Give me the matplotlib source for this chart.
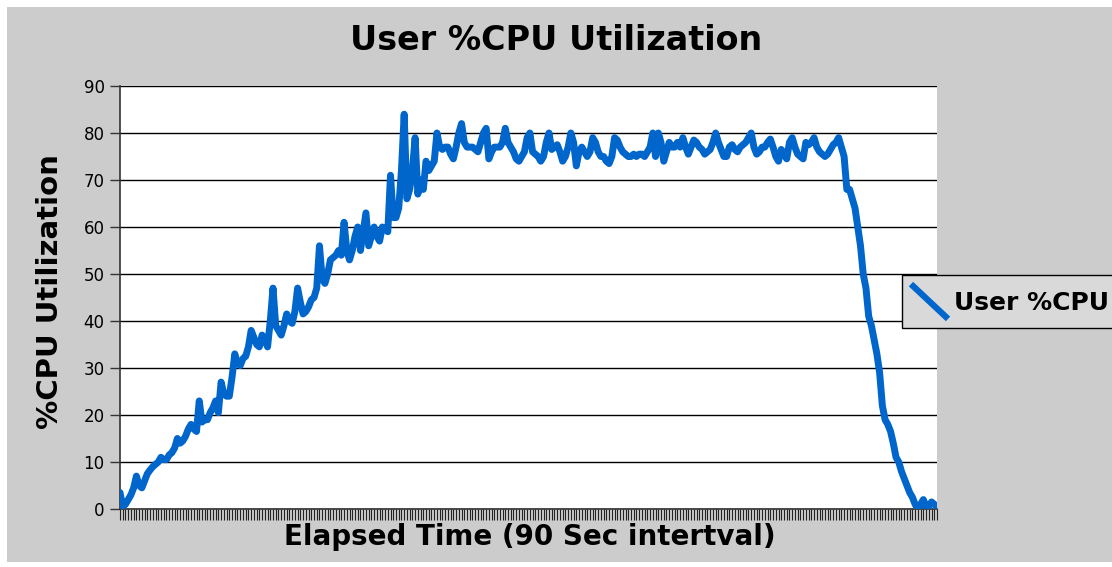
import matplotlib.pyplot as plt
from matplotlib.lines import Line2D
from matplotlib.patches import Rectangle
from matplotlib.legend_handler import HandlerBase

# User %CPU samples, one per 90 second interval
user_cpu = [
    3.5, 0.5, 1, 2, 3, 4.5, 7, 5, 4.5, 6,
    7.5, 8.3, 9, 9.5, 10, 11, 10.5, 10.5, 11.5, 12,
    13, 15, 14, 14.5, 15.5, 17, 18, 17, 16.5, 23,
    18.5, 19, 19, 20.5, 21.5, 23, 20.5, 27, 24.5, 24,
    24, 28, 33, 31, 30.5, 32, 32.5, 34.5, 38, 36.5,
    35, 34.5, 37, 36, 34.5, 40, 47, 39, 38, 37,
    39, 41.5, 40, 39.5, 42, 47, 44, 41.5, 42, 43,
    44.5, 45, 47, 56, 49, 48, 50, 53, 53.5, 54,
    55, 54, 61, 55, 53, 55, 58, 60, 55, 59,
    63, 56, 58, 60, 58, 57, 60, 59.5, 59, 71,
    62, 62, 64, 72, 84, 66, 68, 72, 79, 67,
    70, 68, 74, 72, 73, 74, 80, 77, 76.5, 77,
    77, 75.5, 74.5, 77, 80, 82, 78, 77, 77, 77,
    76.5, 76, 78, 80, 81, 74.5, 76, 77, 77, 77,
    78, 81, 78, 77, 76, 74.5, 74, 75, 76, 79,
    80, 76, 75.5, 75, 74, 75, 78, 80, 76.5, 77,
    77.5, 76, 74, 75, 77, 80, 78, 73, 76, 77,
    76, 75, 76, 79, 78, 76, 75, 75, 74, 73.5,
    75, 79, 78.5, 77, 76, 75.5, 75, 75, 75.5, 75,
    75.5, 75.5, 75, 76, 77, 80, 75, 80, 78, 74,
    76, 78, 77, 77, 78, 77, 79, 77, 75.5, 77,
    78.5, 78, 77, 76.5, 75.5, 76, 76.5, 78, 80, 78,
    76.5, 75, 75, 77, 77.5, 76.5, 76, 77, 77.5, 78,
    79, 80, 77, 75.5, 76, 77, 77, 78, 78.7, 77,
    75, 74, 76.5, 75.5, 74.5, 78, 79, 77, 75.5, 75,
    74.5, 78, 77.5, 78, 79, 77, 76, 75.5, 75, 75.5,
    76.5, 77.5, 78, 79, 77, 75, 68, 68, 66, 64,
    60, 56, 50, 47, 41, 39, 36, 33, 29, 22,
    19, 18, 16.5, 14, 11, 10, 8, 6.5, 5, 3.5,
    2.5, 1, 0, 1, 2, 0.5, 0.5, 1.5, 1, 0.5,
]
y_ticks = list(range(0, 100, 10))

line_color = '#0066cc'


class DiagonalHandler(HandlerBase):
    # legend key drawn as a short diagonal stroke
    def create_artists(self, legend, orig_handle, xdescent, ydescent,
                       width, height, fontsize, trans):
        x0, y0 = -xdescent, -ydescent
        ln = Line2D([x0, x0 + width], [y0 + height, y0],
                    color=line_color, lw=4.5, transform=trans)
        return [ln]


fig = plt.figure(figsize=(11.12, 5.67), dpi=100)
W, H = 1112, 567

# gray chart area, behind everything
fig.patches.append(Rectangle((7 / W, 5 / H), 1 - 7 / W, 555 / H,
                             transform=fig.transFigure, facecolor='#cccccc',
                             edgecolor='none', zorder=-10))

ax = fig.add_axes([120 / W, (H - 509) / H, 817 / W, 423 / H])
ax.set_facecolor('white')

x = list(range(len(user_cpu)))
line, = ax.plot(x, user_cpu, color=line_color, lw=5,
                solid_joinstyle='round', solid_capstyle='round', zorder=3)

ax.set_xlim(0, len(user_cpu) - 1)
ax.set_ylim(0, 90)
ax.set_yticks(y_ticks)
ax.set_xticks(x)
ax.set_xticklabels([])
ax.tick_params(axis='x', length=8, width=0.8, color='#222222')
ax.tick_params(axis='y', length=7, width=1, color='#333333',
               labelsize=12, pad=4)
ax.grid(axis='y', color='black', lw=1)
ax.set_axisbelow(True)
for s in ['top', 'right']:
    ax.spines[s].set_visible(False)
ax.spines['left'].set_color('#333333')
ax.spines['bottom'].set_color('#333333')
ax.spines['left'].set_linewidth(1.2)
ax.spines['bottom'].set_linewidth(1.2)

fig.text(556 / W, 1 - 40 / H, 'User %CPU Utilization', ha='center',
         va='center', fontsize=24, fontweight='bold')
fig.text(530 / W, 1 - 537 / H, 'Elapsed Time (90 Sec intertval)',
         ha='center', va='center', fontsize=20, fontweight='bold')
fig.text(50 / W, 1 - 292 / H, '%CPU Utilization', ha='center',
         va='center', rotation=90, fontsize=21, fontweight='bold')

leg = fig.legend([line], ['User %CPU'], handler_map={line: DiagonalHandler()},
                 loc='upper left', bbox_to_anchor=(902 / W, 1 - 275 / H),
                 frameon=True, fancybox=False, framealpha=1,
                 facecolor='#d9d9d9', edgecolor='black',
                 prop={'size': 18, 'weight': 'bold'},
                 handlelength=1.3, handleheight=1.5, handletextpad=0.35,
                 borderpad=0.45, borderaxespad=0)
leg.get_frame().set_linewidth(1)

fig.savefig('out.png', dpi=100)
